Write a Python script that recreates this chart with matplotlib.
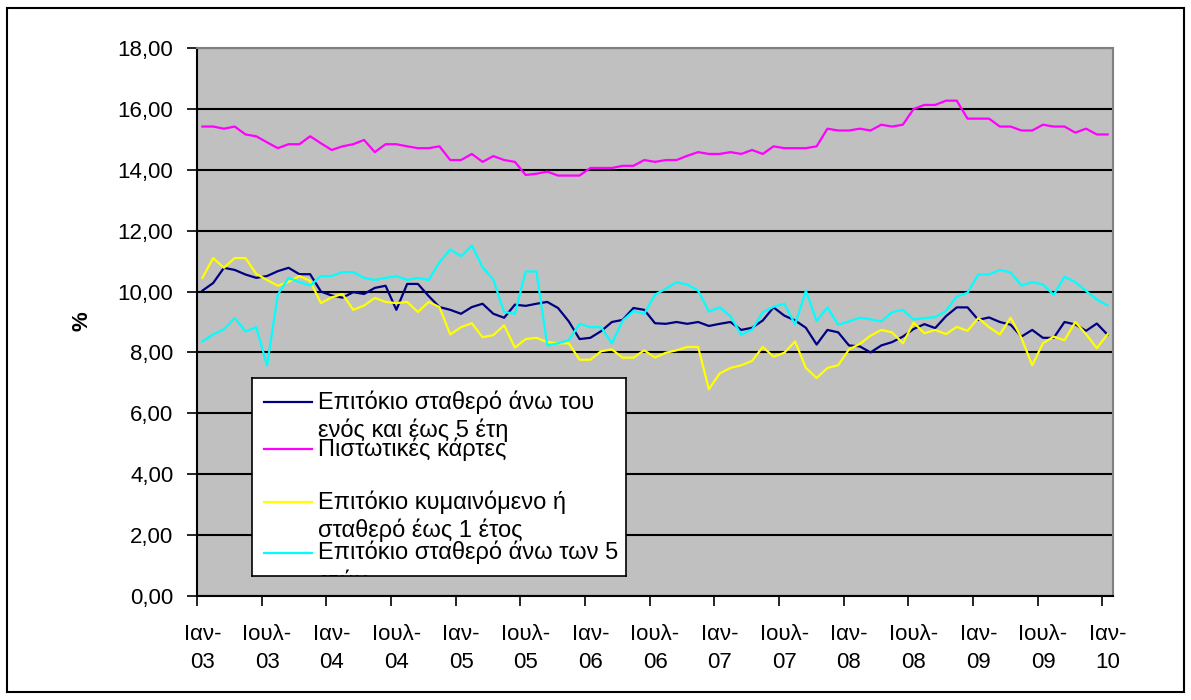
import matplotlib.pyplot as plt
import numpy as np
from matplotlib.patches import Rectangle

plt.rcParams['font.family'] = ['Liberation Sans', 'DejaVu Sans']

# Monthly rates, Jan 2003 - Jan 2010 (85 months)
fixed_1_5y = [10.03, 10.28, 10.78, 10.71, 10.56, 10.45, 10.51, 10.67, 10.78, 10.57, 10.57, 10.0,
              9.87, 9.8, 9.98, 9.92, 10.12, 10.19, 9.4, 10.25, 10.25, 9.85, 9.49, 9.4,
              9.27, 9.49, 9.6, 9.27, 9.14, 9.57, 9.53, 9.6, 9.66, 9.46, 9.02, 8.44,
              8.48, 8.7, 9.0, 9.07, 9.46, 9.4, 8.96, 8.94, 9.0, 8.94, 9.0, 8.87,
              8.94, 9.0, 8.74, 8.81, 9.05, 9.48, 9.21, 9.05, 8.81, 8.26, 8.74, 8.66,
              8.23, 8.2, 8.0, 8.23, 8.34, 8.52, 8.77, 8.93, 8.8, 9.19, 9.48, 9.48,
              9.07, 9.15, 9.0, 8.91, 8.52, 8.74, 8.48, 8.48, 9.0, 8.92, 8.71, 8.95,
              8.58]
credit_cards = [15.42, 15.42, 15.35, 15.42, 15.16, 15.1, 14.9, 14.71, 14.84, 14.84, 15.1, 14.87,
                14.65, 14.77, 14.84, 14.98, 14.58, 14.84, 14.84, 14.77, 14.71, 14.71, 14.77, 14.32,
                14.32, 14.52, 14.26, 14.45, 14.32, 14.26, 13.83, 13.87, 13.94, 13.81, 13.81, 13.81,
                14.06, 14.06, 14.06, 14.13, 14.13, 14.32, 14.26, 14.32, 14.32, 14.46, 14.58, 14.52,
                14.52, 14.58, 14.52, 14.65, 14.52, 14.77, 14.71, 14.71, 14.71, 14.77, 15.35, 15.29,
                15.29, 15.35, 15.29, 15.48, 15.42, 15.48, 16.0, 16.13, 16.13, 16.27, 16.27, 15.68,
                15.68, 15.68, 15.42, 15.42, 15.29, 15.29, 15.48, 15.42, 15.42, 15.22, 15.35, 15.16,
                15.16]
floating_1y = [10.45, 11.1, 10.78, 11.1, 11.1, 10.58, 10.38, 10.19, 10.32, 10.51, 10.35, 9.62,
               9.81, 9.92, 9.4, 9.54, 9.79, 9.66, 9.62, 9.66, 9.33, 9.66, 9.49, 8.59,
               8.83, 8.96, 8.5, 8.57, 8.89, 8.16, 8.44, 8.48, 8.34, 8.3, 8.3, 7.76,
               7.76, 8.04, 8.1, 7.83, 7.83, 8.07, 7.83, 7.99, 8.07, 8.18, 8.18, 6.79,
               7.31, 7.49, 7.58, 7.72, 8.18, 7.86, 7.99, 8.36, 7.49, 7.16, 7.49, 7.58,
               8.1, 8.28, 8.55, 8.74, 8.66, 8.3, 8.98, 8.63, 8.74, 8.6, 8.84, 8.71,
               9.13, 8.83, 8.59, 9.14, 8.48, 7.58, 8.3, 8.52, 8.4, 9.0, 8.6, 8.14,
               8.6]
fixed_over_5y = [8.36, 8.59, 8.76, 9.13, 8.69, 8.83, 7.57, 9.9, 10.45, 10.31, 10.2, 10.51,
                 10.51, 10.64, 10.64, 10.45, 10.38, 10.45, 10.51, 10.38, 10.45, 10.38, 10.96, 11.38,
                 11.16, 11.51, 10.8, 10.39, 9.33, 9.27, 10.66, 10.66, 8.23, 8.3, 8.4, 8.94,
                 8.83, 8.83, 8.3, 9.05, 9.36, 9.27, 9.9, 10.09, 10.31, 10.23, 10.03, 9.34,
                 9.48, 9.19, 8.58, 8.75, 9.32, 9.5, 9.6, 8.92, 10.03, 9.03, 9.48, 8.91,
                 9.02, 9.14, 9.09, 9.02, 9.32, 9.4, 9.08, 9.13, 9.16, 9.36, 9.84, 9.96,
                 10.56, 10.56, 10.71, 10.63, 10.2, 10.31, 10.23, 9.89, 10.49, 10.31, 10.02, 9.74,
                 9.54]

tick_labels = ['Ιαν-\n03', 'Ιουλ-\n03', 'Ιαν-\n04', 'Ιουλ-\n04', 'Ιαν-\n05', 'Ιουλ-\n05',
               'Ιαν-\n06', 'Ιουλ-\n06', 'Ιαν-\n07', 'Ιουλ-\n07', 'Ιαν-\n08', 'Ιουλ-\n08',
               'Ιαν-\n09', 'Ιουλ-\n09', 'Ιαν-\n10']

series = [
    (fixed_1_5y, '#000080', ['Επιτόκιο σταθερό άνω του', 'ενός και έως 5 έτη']),
    (credit_cards, '#FF00FF', ['Πιστωτικές κάρτες']),
    (floating_1y, '#FFFF00', ['Επιτόκιο κυμαινόμενο ή', 'σταθερό έως 1 έτος']),
    (fixed_over_5y, '#00FFFF', ['Επιτόκιο σταθερό άνω των 5', 'ετών']),
]

W, H = 1191, 700
fig = plt.figure(figsize=(W / 100, H / 100), dpi=100)

# chart area frame
fig.add_artist(Rectangle((7 / W, 1 - 692 / H), 1177 / W, 684 / H, transform=fig.transFigure,
                         fill=False, ec='black', lw=1.5))

ax = fig.add_axes([197 / W, 1 - 596 / H, 916 / W, 548 / H])
ax.set_facecolor('#C0C0C0')

x = np.arange(len(fixed_1_5y))
for values, color, _ in series:
    ax.plot(x, values, color=color, lw=1.6, zorder=3)

ax.set_xlim(-0.5, 84.5)
ax.set_ylim(0, 18)

yt = np.arange(0, 19, 2)
ax.set_yticks(yt)
ax.set_yticklabels([f'{v:.2f}'.replace('.', ',') for v in yt], fontsize=16)
ax.yaxis.grid(True, color='black', lw=1.5, zorder=1)
ax.tick_params(axis='y', length=7, width=1.2, pad=10, direction='out')

ax.set_xticks(np.arange(0, 85, 6))
ax.set_xticklabels(tick_labels, fontsize=16, linespacing=1.45)
ax.set_xticks(np.arange(0, 85, 6) - 0.5, minor=True)
ax.tick_params(axis='x', which='major', length=0, pad=20)
ax.tick_params(axis='x', which='minor', length=7, width=1.2, direction='out')

for side in ('top', 'right'):
    ax.spines[side].set_color('#808080')
    ax.spines[side].set_linewidth(1.5)
for side in ('left', 'bottom'):
    ax.spines[side].set_color('black')
    ax.spines[side].set_linewidth(1.5)

fig.text(82 / W, 1 - 321 / H, '%', rotation=90, fontsize=16, fontweight='bold',
         ha='center', va='center')

# legend box, drawn in its own pixel-unit axes so the last line gets clipped
lg = fig.add_axes([252 / W, 1 - 576 / H, 374 / W, 198 / H])
lg.set_xlim(0, 374)
lg.set_ylim(198, 0)
lg.set_xticks([])
lg.set_yticks([])
lg.set_facecolor('white')
for s in lg.spines.values():
    s.set_color('black')
    s.set_linewidth(1.2)

handle_y = [23.5, 71, 123.5, 174.5]
for (values, color, lines), hy in zip(series, handle_y):
    lg.plot([12, 60], [hy, hy], color=color, lw=1.6)
    for k, line in enumerate(lines):
        lg.text(66, hy + 7 + 29 * k, line, fontsize=17, va='baseline', ha='left', clip_on=True)

fig.savefig('out.png', dpi=100)
